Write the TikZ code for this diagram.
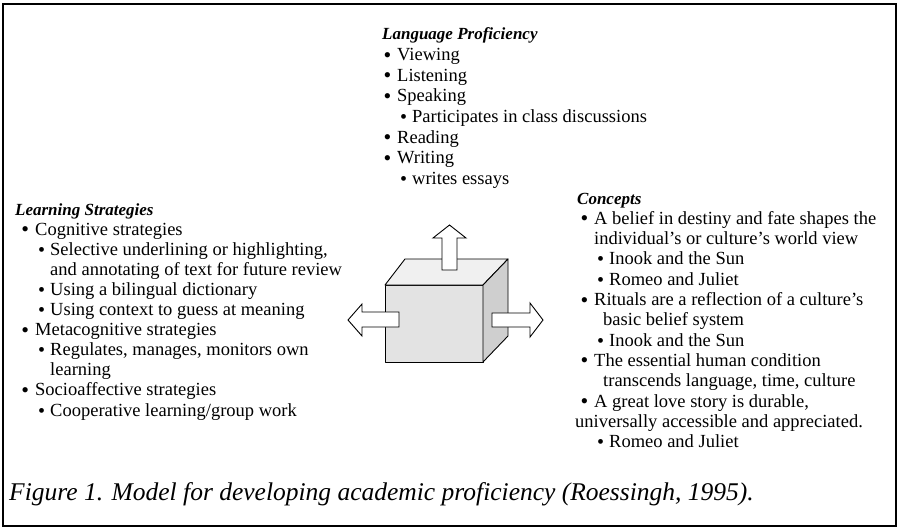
\documentclass[tikz,border=0pt]{standalone}
\usepackage{fontspec}
\setmainfont{Liberation Serif}
\newcommand\bul{\llap{\raisebox{-1.5pt}{\fontsize{22}{22}\selectfont\textbullet}\hspace{6pt}}}
\newcommand\sbul{\llap{\raisebox{-1pt}{\fontsize{20}{20}\selectfont\textbullet}\hspace{5pt}}}
\begin{document}
\begin{tikzpicture}[x=1pt,y=-1pt,
    entry/.style ={anchor=base west, inner sep=0pt, font=\fontsize{18.5}{20}\selectfont},
    heading/.style ={entry, font=\fontsize{17}{20}\selectfont\bfseries\itshape},
    face/.style ={draw, line width=0.9pt, line join=round},
    blockarrow/.style ={draw, fill=white, line width=0.9pt}]
   \useasboundingbox (0,0) rectangle (899,532);
   \fill[white] (0,0) rectangle (899,532);
   \draw[line width=1.6pt] (3,4) rectangle (896,526);
   % language proficiency
   \node[heading] (lang) at (382,40) {Language Proficiency};
   \foreach \dx/\txt [count=\i] in {397/{\bul Viewing}, 397/{\bul Listening},
       397/{\bul Speaking}, 412/{\sbul Participates in class discussions},
       397/{\bul Reading}, 397/{\bul Writing}, 412/{\sbul writes essays}}
     \node[entry] (lang\i) at (\dx,40+20.6*\i) {\txt};
   % learning strategies
   \node[heading] (learn) at (15,215) {Learning Strategies};
   \foreach \dx/\txt [count=\i] in {35/{\bul Cognitive strategies},
       50/{\sbul Selective underlining or highlighting,},
       50/{and annotating of text for future review},
       50/{\sbul Using a bilingual dictionary},
       50/{\sbul Using context to guess at meaning},
       35/{\bul Metacognitive strategies},
       50/{\sbul Regulates, manages, monitors own},
       50/{learning},
       35/{\bul Socioaffective strategies},
       50/{\sbul Cooperative learning/group work}}
     \node[entry] (learn\i) at (\dx,215+20.1*\i) {\txt};
   % concepts
   \node[heading] (conc) at (577,204) {Concepts};
   \foreach \dx/\txt [count=\i] in {594/{\bul A belief in destiny and fate shapes the},
       594/{individual's or culture's world view},
       609/{\sbul Inook and the Sun},
       609/{\sbul Romeo and Juliet},
       594/{\bul Rituals are a reflection of a culture's},
       603/{basic belief system},
       609/{\sbul Inook and the Sun},
       594/{\bul The essential human condition},
       603/{transcends language, time, culture},
       594/{\bul A great love story is durable,},
       575/{universally accessible and appreciated.},
       609/{\sbul Romeo and Juliet}}
     \node[entry] (conc\i) at (\dx,204+20.3*\i) {\txt};
   % cube
   \draw[face, fill=gray!22] (385,285) rectangle (483,362);
   \draw[face, fill=gray!12] (385,285) -- (405,259) -- (508,259) -- (483,285) -- cycle;
   \draw[face, fill=gray!38] (483,285) -- (508,259) -- (508,336) -- (483,362) -- cycle;
   \draw[blockarrow] (442,270) -- (442,238) -- (433,238) -- (449.5,225) -- (466,238) -- (457,238) -- (457,270) -- cycle;
   \draw[blockarrow] (399,312) -- (362,312) -- (362,304) -- (348,320) -- (362,336) -- (362,327) -- (399,327) -- cycle;
   \draw[blockarrow] (492,313) -- (530,313) -- (530,303) -- (543,320) -- (530,337) -- (530,327) -- (492,327) -- cycle;
   \node[anchor=base west, inner sep=0pt, font=\fontsize{25.5}{26}\selectfont\itshape] (caption) at (9,500)
     {Figure 1. Model for developing academic proficiency (Roessingh, 1995).};
\end{tikzpicture}
\end{document}
